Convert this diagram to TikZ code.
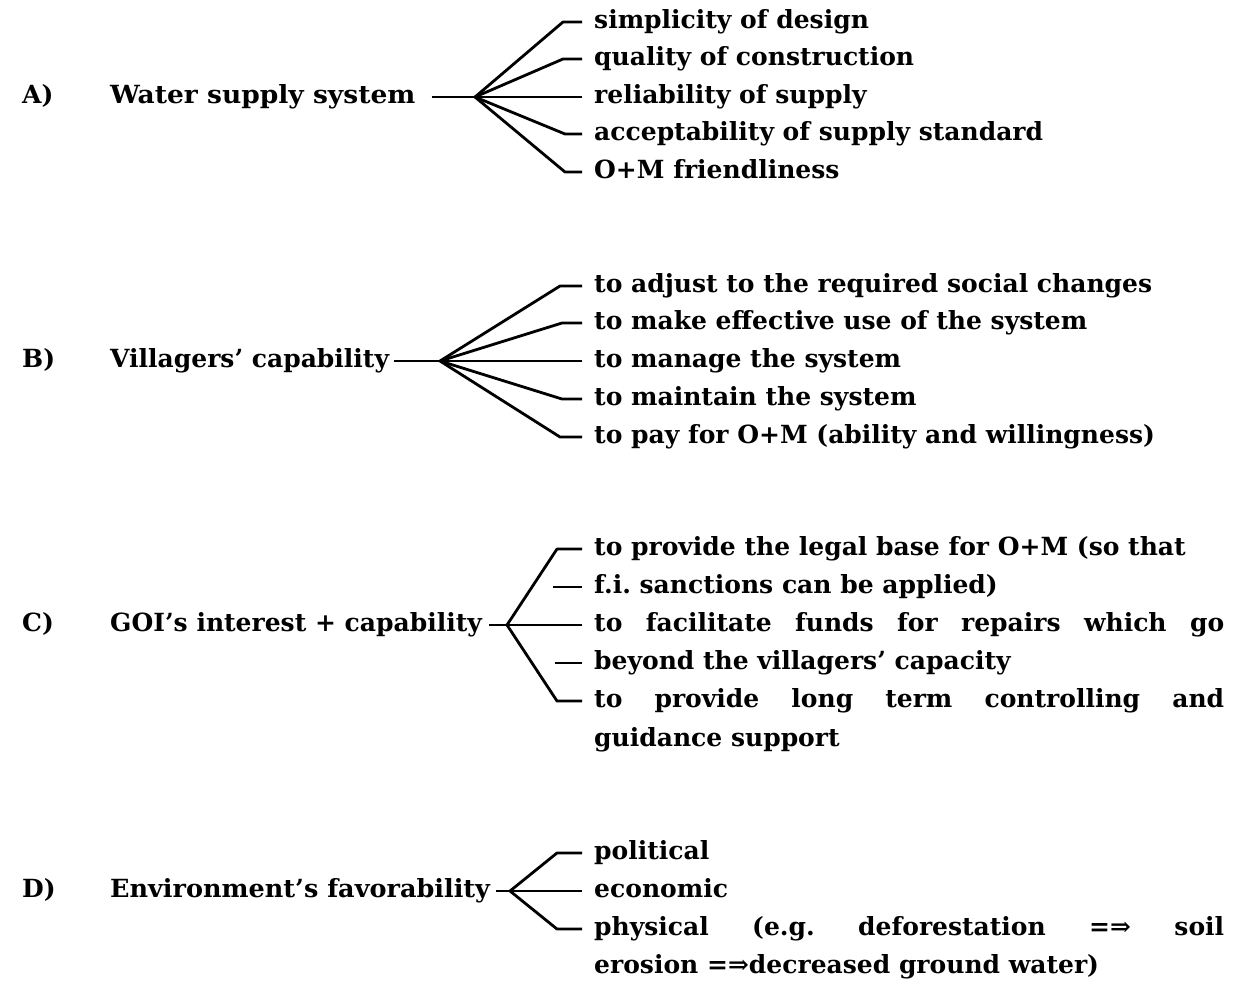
\documentclass[tikz,border=0pt]{standalone}
\usepackage{graphicx}
\usepackage{fontspec}
\setmainfont{DejaVu Serif}
\frenchspacing
\begin{document}
\begin{tikzpicture}[x=1pt,y=-1pt,
  every node/.style={font=\fontsize{25}{28}\selectfont\bfseries, inner sep=0pt, text height=18pt, text depth=5pt},
  item/.style={anchor=base west, inner xsep=12pt},
  head/.style={anchor=base west},
  conn/.style={line width=2.8pt, line join=round}]
\path[use as bounding box] (0,0) rectangle (1236,983);
% ---------- A
\node[head] (kA) at (22,103.5) {A)};
\node[head] (lA) at (110,103.5) {\scalebox{1.06}[1]{Water supply system}};
\coordinate (hA) at (475,97);
\node[item] (a1) at (582,28.5) {simplicity of design};
\node[item] (a2) at (582,65.5) {quality of construction};
\node[item] (a3) at (582,103.5) {reliability of supply};
\node[item] (a4) at (582,140.5) {acceptability of supply standard};
\node[item] (a5) at (582,178.5) {O+M friendliness};
\coordinate (ba1) at (563,22);
\coordinate (ba2) at (563,59);
\coordinate (ba4) at (565,134);
\coordinate (ba5) at (565,172);
\draw[conn] ([xshift=16pt]lA.east) -- (hA);
\draw[conn] (hA) -- (ba1) -- (a1.west);
\draw[conn] (hA) -- (ba2) -- (a2.west);
\draw[conn] (hA) -- (a3.west);
\draw[conn] (hA) -- (ba4) -- (a4.west);
\draw[conn] (hA) -- (ba5) -- (a5.west);
% ---------- B
\node[head] (kB) at (22,367.5) {B)};
\node[head] (lB) at (110,367.5) {Villagers’ capability};
\coordinate (hB) at (440,361);
\node[item] (b1) at (582,292.5) {to adjust to the required social changes};
\node[item] (b2) at (582,329.5) {to make effective use of the system};
\node[item] (b3) at (582,367.5) {to manage the system};
\node[item] (b4) at (582,405.5) {to maintain the system};
\node[item] (b5) at (582,443.5) {to pay for O+M (ability and willingness)};
\coordinate (bb1) at (560,286);
\coordinate (bb2) at (562,323);
\coordinate (bb4) at (562,399);
\coordinate (bb5) at (560,437);
\draw[conn] ([xshift=5pt]lB.east) -- (hB);
\draw[conn] (hB) -- (bb1) -- (b1.west);
\draw[conn] (hB) -- (bb2) -- (b2.west);
\draw[conn] (hB) -- (b3.west);
\draw[conn] (hB) -- (bb4) -- (b4.west);
\draw[conn] (hB) -- (bb5) -- (b5.west);
% ---------- C
\node[head] (kC) at (22,631.5) {C)};
\node[head] (lC) at (110,631.5) {GOI’s interest + capability};
\coordinate (hC) at (507,625);
\node[item] (c1) at (582,555.5) {to provide the legal base for O+M (so that};
\node[item] (c2) at (582,593.5) {f.i. sanctions can be applied)};
\node[item] (c3) at (582,631.5) {\makebox[630pt][s]{to facilitate funds for repairs which go}};
\node[item] (c4) at (582,669.5) {beyond the villagers’ capacity};
\node[item] (c5) at (582,707.5) {\makebox[630pt][s]{to provide long term controlling and}};
\node[item] (c6) at (582,746.5) {guidance support};
\coordinate (bc1) at (557,549);
\coordinate (dc2) at (553,587);
\coordinate (dc4) at (555,663);
\coordinate (bc5) at (557,701);
\draw[conn] ([xshift=7pt]lC.east) -- (hC);
\draw[conn] (hC) -- (bc1) -- (c1.west);
\draw[conn] (dc2) -- (c2.west);
\draw[conn] (hC) -- (c3.west);
\draw[conn] (dc4) -- (c4.west);
\draw[conn] (hC) -- (bc5) -- (c5.west);
% ---------- D
\node[head] (kD) at (22,897.5) {D)};
\node[head] (lD) at (110,897.5) {\scalebox{1.02}[1]{Environment’s favorability}};
\coordinate (hD) at (510,891);
\node[item] (d1) at (582,859.5) {political};
\node[item] (d2) at (582,897.5) {economic};
\node[item] (d3) at (582,935.5) {\makebox[630pt][s]{physical (e.g. deforestation =⇒ soil}};
\node[item] (d4) at (582,973.5) {erosion =⇒decreased ground water)};
\coordinate (bd1) at (557,853);
\coordinate (bd3) at (557,929);
\draw[conn] ([xshift=6pt]lD.east) -- (hD);
\draw[conn] (hD) -- (bd1) -- (d1.west);
\draw[conn] (hD) -- (d2.west);
\draw[conn] (hD) -- (bd3) -- (d3.west);
\end{tikzpicture}
\end{document}
